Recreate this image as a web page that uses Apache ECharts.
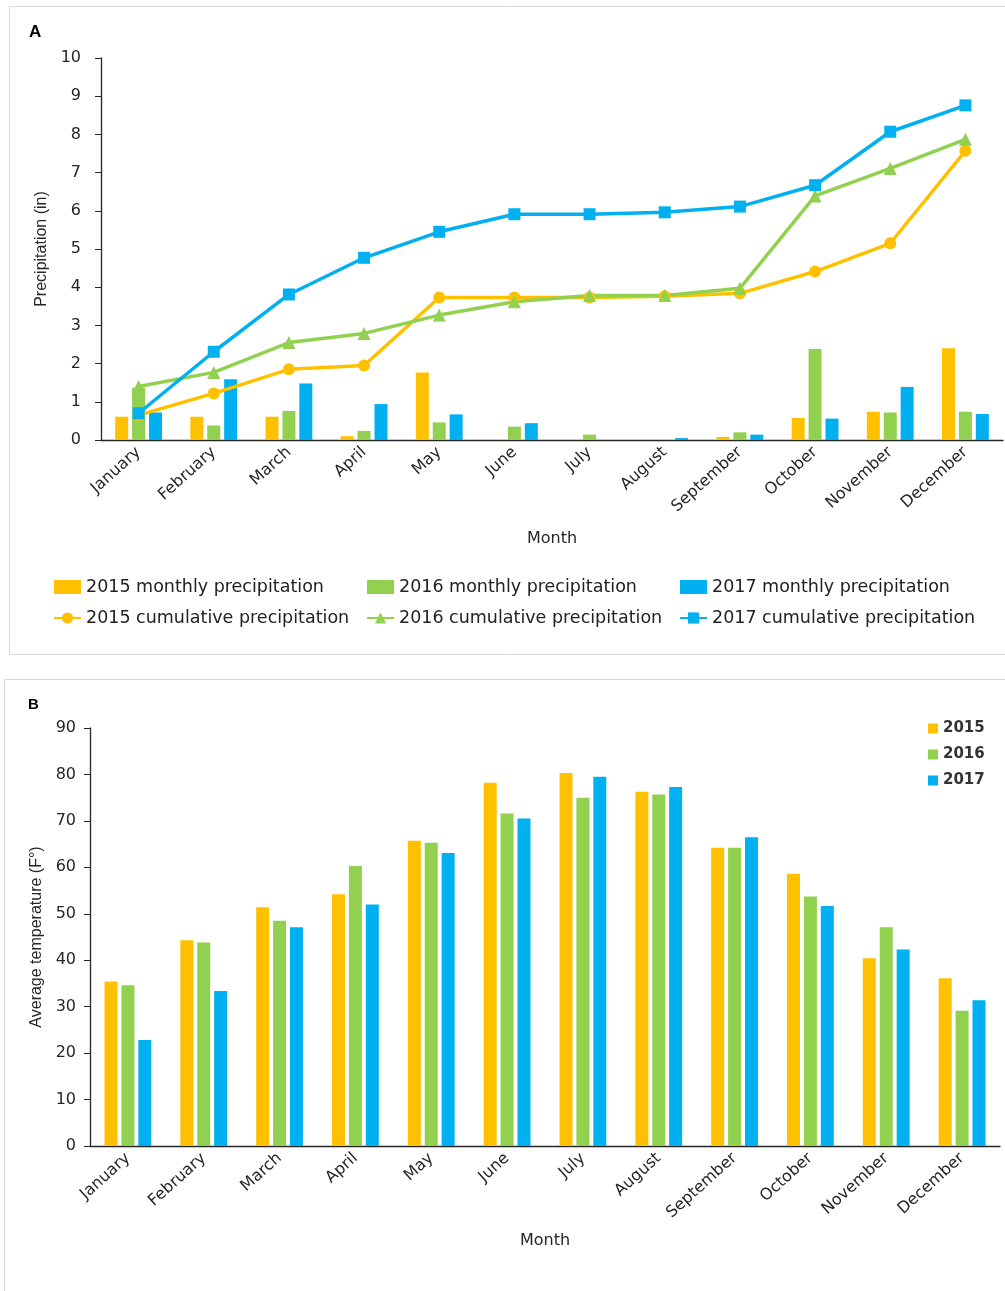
<!DOCTYPE html>
<html>
<head>
<meta charset="utf-8">
<script src="https://cdn.jsdelivr.net/npm/echarts@6/dist/echarts.min.js"></script>
<style>
  html, body { margin: 0; padding: 0; background: #fff; }
  #chart { width: 1005px; height: 1291px; }
</style>
</head>
<body>
<div id="chart"></div>
<script>
const months = ["January", "February", "March", "April", "May", "June",
  "July", "August", "September", "October", "November", "December"];

// panel A: monthly precipitation (in)
const monthly2015 = [0.61, 0.61, 0.61, 0.10, 1.77, 0, 0, 0, 0.08, 0.58, 0.74, 2.40];
const monthly2016 = [1.37, 0.38, 0.76, 0.24, 0.46, 0.35, 0.14, 0, 0.20, 2.38, 0.72, 0.74];
const monthly2017 = [0.72, 1.59, 1.48, 0.94, 0.67, 0.44, 0, 0.05, 0.14, 0.56, 1.39, 0.68];

// panel A: cumulative precipitation (in)
const cum2015 = [0.65, 1.22, 1.85, 1.95, 3.73, 3.73, 3.73, 3.76, 3.84, 4.41, 5.15, 7.57];
const cum2016 = [1.40, 1.77, 2.55, 2.79, 3.27, 3.62, 3.78, 3.78, 3.97, 6.39, 7.11, 7.87];
const cum2017 = [0.70, 2.31, 3.81, 4.77, 5.45, 5.91, 5.91, 5.96, 6.11, 6.67, 8.07, 8.76];

// panel B: average temperature (F)
const temp2015 = [35.4, 44.3, 51.4, 54.2, 65.7, 78.2, 80.3, 76.3, 64.2, 58.6, 40.4, 36.1];
const temp2016 = [34.6, 43.8, 48.5, 60.3, 65.3, 71.6, 75.0, 75.7, 64.2, 53.7, 47.1, 29.1];
const temp2017 = [22.8, 33.4, 47.1, 52.0, 63.1, 70.5, 79.5, 77.3, 66.5, 51.7, 42.3, 31.4];

const ORANGE = "#FFC000";
const GREEN = "#92D050";
const BLUE = "#00B0F0";
const FONT = "DejaVu Sans";
const AXIS_COLOR = "#262626";

function valueAxis(grid, max, interval, name, nameGap, margin) {
  return {
    type: "value",
    gridIndex: grid,
    min: 0,
    max: max,
    interval: interval,
    name: name,
    nameLocation: "middle",
    nameGap: nameGap,
    nameTextStyle: { fontFamily: "Liberation Sans", fontSize: 16, color: "#262626" },
    axisLine: { show: true, lineStyle: { color: AXIS_COLOR, width: 1.3 } },
    axisTick: { show: true, length: 6, lineStyle: { color: AXIS_COLOR } },
    axisLabel: { fontFamily: FONT, fontSize: 16, color: "#262626", margin: margin },
    splitLine: { show: false },
  };
}

function monthAxis(grid, nameGap) {
  return {
    type: "category",
    gridIndex: grid,
    data: months,
    name: "Month",
    nameLocation: "middle",
    nameGap: nameGap,
    nameTextStyle: { fontFamily: FONT, fontSize: 16, color: "#262626" },
    axisLine: { lineStyle: { color: AXIS_COLOR, width: 1.3 } },
    axisTick: { show: false },
    axisLabel: {
      rotate: 42,
      interval: 0,
      margin: 10,
      fontFamily: FONT,
      fontSize: 16,
      color: "#262626",
    },
  };
}

function barSeries(name, data, color, axis) {
  return {
    name: name,
    type: "bar",
    xAxisIndex: axis,
    yAxisIndex: axis,
    barWidth: 13,
    barGap: "30%",
    itemStyle: { color: color },
    data: data,
  };
}

function lineSeries(name, data, color, symbol, size) {
  return {
    name: name,
    type: "line",
    xAxisIndex: 0,
    yAxisIndex: 0,
    symbol: symbol,
    symbolSize: size,
    z: 5,
    lineStyle: { color: color, width: 3.5 },
    itemStyle: { color: color },
    data: data,
  };
}

function legendColumn(left, year) {
  return {
    left: left,
    top: 578,
    orient: "vertical",
    padding: 0,
    itemWidth: 27,
    itemHeight: 14,
    itemGap: 13,
    textStyle: { fontFamily: FONT, fontSize: 17.5, color: "#222" },
    data: [
      { name: year + " monthly precipitation", icon: "rect" },
      { name: year + " cumulative precipitation" },
    ],
  };
}

let options = {
  animation: false,
  backgroundColor: "#fff",
  graphic: [
    {
      type: "rect",
      shape: { x: 9.5, y: 6.5, width: 1010, height: 648 },
      style: { fill: "none", stroke: "#d9d9d9", lineWidth: 1 },
      silent: true,
    },
    {
      type: "rect",
      shape: { x: 4.5, y: 679.5, width: 1010, height: 620 },
      style: { fill: "none", stroke: "#d9d9d9", lineWidth: 1 },
      silent: true,
    },
    {
      type: "text",
      left: 29,
      top: 24,
      style: { text: "A", fontFamily: "Liberation Sans", fontWeight: "bold", fontSize: 17, fill: "#000" },
    },
    {
      type: "text",
      left: 28,
      top: 697,
      style: { text: "B", fontFamily: "Liberation Sans", fontWeight: "bold", fontSize: 15, fill: "#000" },
    },
  ],
  grid: [
    { left: 101, top: 58, width: 902, height: 382 },
    { left: 90, top: 728, width: 910, height: 418 },
  ],
  xAxis: [monthAxis(0, 91), monthAxis(1, 87)],
  yAxis: [
    valueAxis(0, 10, 1, "Precipitation (in)", 50, 20),
    valueAxis(1, 90, 10, "Average temperature (F°)", 45, 14),
  ],
  legend: [
    legendColumn(53, "2015"),
    legendColumn(366, "2016"),
    legendColumn(679, "2017"),
    {
      left: 928,
      top: 721,
      orient: "vertical",
      padding: 0,
      itemWidth: 10,
      itemHeight: 10,
      itemGap: 11,
      textStyle: { fontFamily: FONT, fontSize: 15, fontWeight: "bold", color: "#333" },
      data: [
        { name: "2015", icon: "rect" },
        { name: "2016", icon: "rect" },
        { name: "2017", icon: "rect" },
      ],
    },
  ],
  series: [
    barSeries("2015 monthly precipitation", monthly2015, ORANGE, 0),
    barSeries("2016 monthly precipitation", monthly2016, GREEN, 0),
    barSeries("2017 monthly precipitation", monthly2017, BLUE, 0),
    lineSeries("2015 cumulative precipitation", cum2015, ORANGE, "circle", 12),
    lineSeries("2016 cumulative precipitation", cum2016, GREEN, "triangle", 13),
    lineSeries("2017 cumulative precipitation", cum2017, BLUE, "rect", 12),
    barSeries("2015", temp2015, ORANGE, 1),
    barSeries("2016", temp2016, GREEN, 1),
    barSeries("2017", temp2017, BLUE, 1),
  ],
};

let chart = echarts.init(document.getElementById("chart"));
chart.setOption(options);
</script>
</body>
</html>
